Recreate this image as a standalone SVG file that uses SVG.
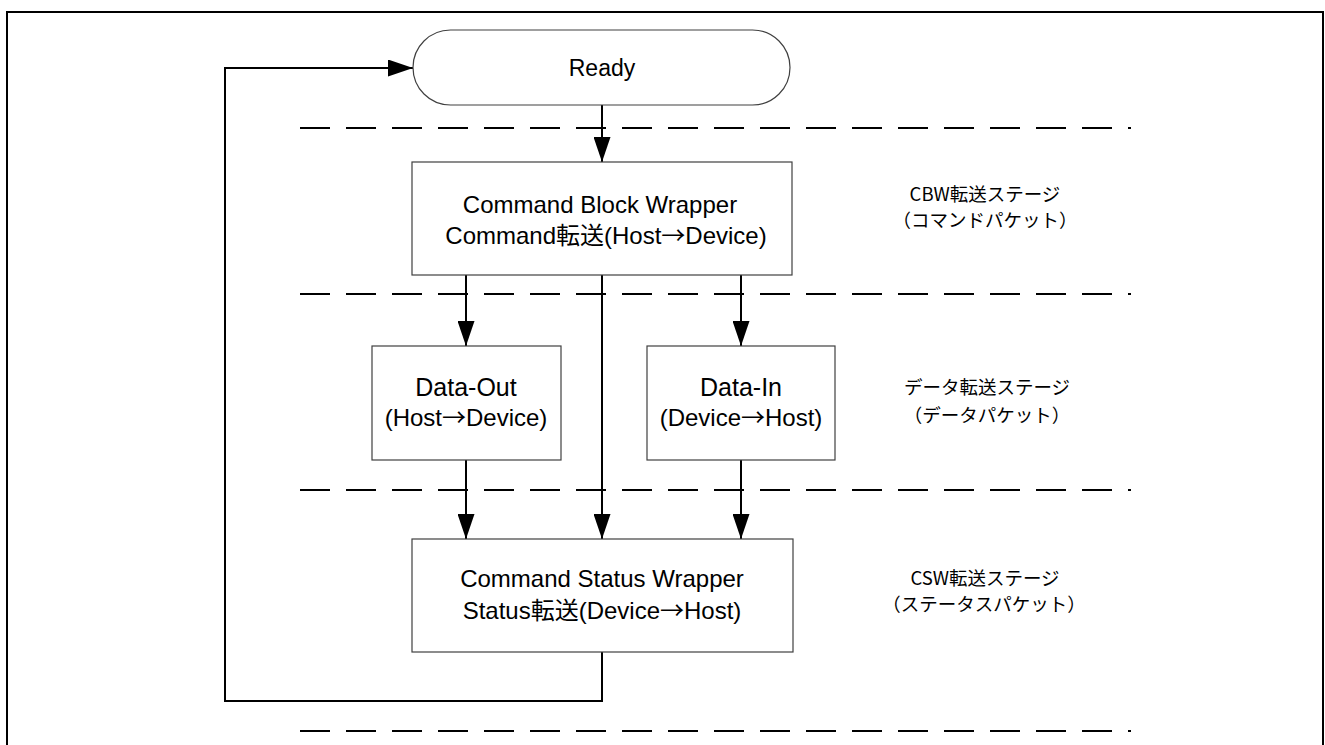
<svg xmlns="http://www.w3.org/2000/svg" width="1325" height="745" viewBox="0 0 1325 745">
<style>
.box{fill:#fff;stroke:#404040;stroke-width:1.2}
.conn{fill:none;stroke:#000;stroke-width:2}
.dash{fill:none;stroke:#000;stroke-width:2;stroke-dasharray:30 16}
.t{font-family:"Liberation Sans","Noto Sans CJK JP",sans-serif;fill:#000;text-anchor:middle}
.ar{font-family:"Noto Sans CJK JP",sans-serif}
.jp{font-family:"Noto Sans CJK JP","Liberation Sans",sans-serif;font-size:18.5px;fill:#000;text-anchor:middle}
</style>
<defs>
<marker id="arr" markerUnits="userSpaceOnUse" markerWidth="25" markerHeight="17" refX="25" refY="8.5" orient="auto">
<path d="M0,0 L25,8.5 L0,17 Z" fill="#000"/>
</marker>
</defs>
<rect width="1325" height="745" fill="#fff"/>
<path d="M7,746 V12 H1323 V746" fill="none" stroke="#000" stroke-width="2"/>
<g id="stage-lines">
<line class="dash" x1="300" y1="128" x2="1131" y2="128"/>
<line class="dash" x1="300" y1="294" x2="1131" y2="294"/>
<line class="dash" x1="300" y1="490" x2="1131" y2="490"/>
<line class="dash" x1="300" y1="731" x2="1131" y2="731"/>
</g>
<g id="connectors">
<line class="conn" x1="602" y1="105" x2="602" y2="162" marker-end="url(#arr)"/>
<line class="conn" x1="466" y1="275" x2="466" y2="346" marker-end="url(#arr)"/>
<line class="conn" x1="602" y1="275" x2="602" y2="539" marker-end="url(#arr)"/>
<line class="conn" x1="741" y1="275" x2="741" y2="346" marker-end="url(#arr)"/>
<line class="conn" x1="466" y1="460" x2="466" y2="539" marker-end="url(#arr)"/>
<line class="conn" x1="741" y1="460" x2="741" y2="539" marker-end="url(#arr)"/>
<path class="conn" d="M602,652 V701 H225 V68 H413" marker-end="url(#arr)"/>
</g>
<g id="ready">
<rect class="box" x="413" y="30" width="377" height="75" rx="37.5" ry="37.5"/>
<text class="t" x="602" y="76" font-size="23">Ready</text>
</g>
<g id="cbw">
<rect class="box" x="412" y="162" width="380" height="113"/>
<text class="t" x="600" y="213" font-size="24">Command Block Wrapper</text>
<text class="t" x="606" y="244" font-size="24">Command転送(Host<tspan class="ar">→</tspan>Device)</text>
</g>
<g id="data-out">
<rect class="box" x="372" y="346" width="189" height="114"/>
<text class="t" x="466" y="396" font-size="25">Data-Out</text>
<text class="t" x="466" y="426" font-size="24">(Host<tspan class="ar">→</tspan>Device)</text>
</g>
<g id="data-in">
<rect class="box" x="647" y="346" width="188" height="114"/>
<text class="t" x="741" y="396" font-size="25">Data-In</text>
<text class="t" x="741" y="426" font-size="24">(Device<tspan class="ar">→</tspan>Host)</text>
</g>
<g id="csw">
<rect class="box" x="412" y="539" width="381" height="113"/>
<text class="t" x="602" y="587" font-size="24">Command Status Wrapper</text>
<text class="t" x="602" y="619" font-size="24">Status転送(Device<tspan class="ar">→</tspan>Host)</text>
</g>
<g id="stage-labels">
<text class="jp" x="985" y="201">CBW転送ステージ</text>
<text class="jp" x="985" y="227">（コマンドパケット）</text>
<text class="jp" x="987" y="394">データ転送ステージ</text>
<text class="jp" x="987" y="422">（データパケット）</text>
<text class="jp" x="985" y="585">CSW転送ステージ</text>
<text class="jp" x="984" y="611">（ステータスパケット）</text>
</g>
</svg>
